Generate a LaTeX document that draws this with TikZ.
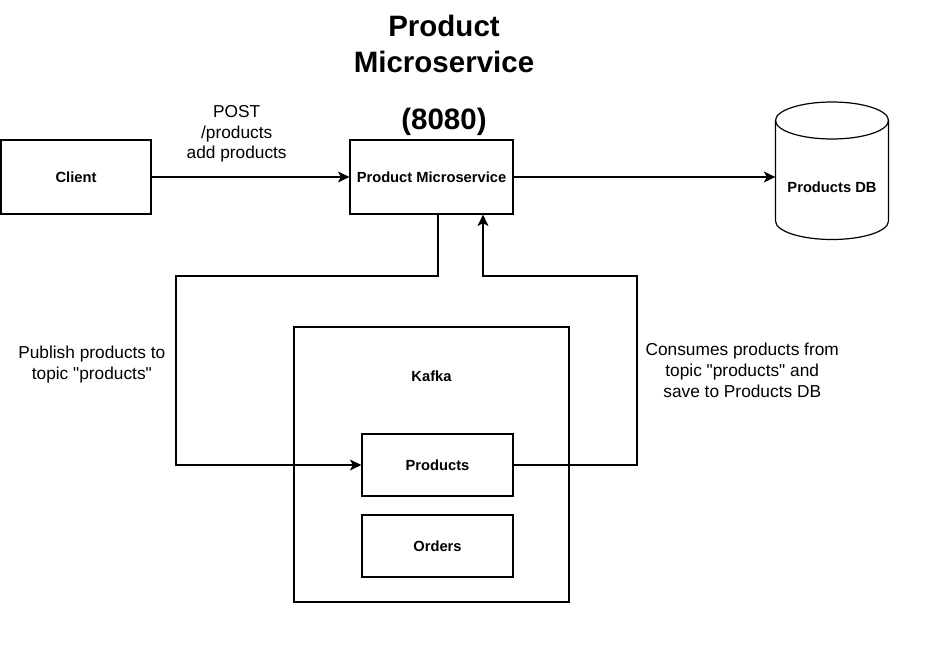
\documentclass[tikz,border=0pt]{standalone}
\usepackage{fontspec}
\setmainfont{Liberation Sans}
\usetikzlibrary{arrows.meta}

\tikzset{
    boxfont/.style={font=\fontsize{14.7}{17.6}\selectfont\bfseries},
    box/.style={draw, line width=1.2pt, inner sep=0pt, boxfont},
    lbl/.style={align=center, inner sep=0pt, font=\fontsize{17.3}{20.8}\selectfont},
    arr/.style={line width=1.2pt, -{Stealth[length=11.5pt,width=11pt,inset=3pt]}},
}

\begin{document}
\begin{tikzpicture}[x=1pt,y=-1pt]
    \useasboundingbox (0,0) rectangle (930,655);
    \node[align=center, inner sep=0pt, anchor=north, font=\fontsize{29.5}{35.5}\selectfont\bfseries] (title) at (444,15) {Product\\Microservice\\[22pt](8080)};
    \node[box, minimum width=150pt, minimum height=74pt] (client) at (76,177) {Client};
    \node[box, minimum width=163pt, minimum height=74pt] (pm) at (431.5,177) {Product Microservice};
    % database cylinder
    \node[boxfont, inner sep=0pt, minimum width=113pt] (db) at (832,187) {Products DB};
    \draw[line width=1.2pt] (775.5,120.5) -- (775.5,221) arc[start angle=180, end angle=0, x radius=56.5, y radius=18.5] -- (888.5,120.5);
    \draw[line width=1.2pt] (832,120.5) ellipse [x radius=56.5, y radius=18.5];
    % kafka with its topics
    \node[box, minimum width=275pt, minimum height=275pt, label={[boxfont, anchor=center, yshift=-50pt]north:Kafka}] (kafka) at (431.5,464.5) {};
    \node[box, minimum width=151pt, minimum height=62pt] (products) at (437.5,465) {Products};
    \node[box, minimum width=151pt, minimum height=62pt] (orders) at (437.5,546) {Orders};
    % connectors
    \draw[arr] (client) -- node[lbl, pos=0.43, above=14pt] {POST\\/products\\add products} (pm);
    \draw[arr] (pm) -- (pm -| db.west);
    \draw[arr] ([xshift=6.5pt]pm.south) |- (176,276) |- node[lbl, pos=0.235, left=10pt] {Publish products to\\topic \textquotedbl products\textquotedbl} (products);
    \draw[arr] (products) -| node[lbl, pos=0.75, right=8pt] {Consumes products from\\topic \textquotedbl products\textquotedbl{} and\\save to Products DB} (637,276) -| ([xshift=51.5pt]pm.south);
\end{tikzpicture}
\end{document}
